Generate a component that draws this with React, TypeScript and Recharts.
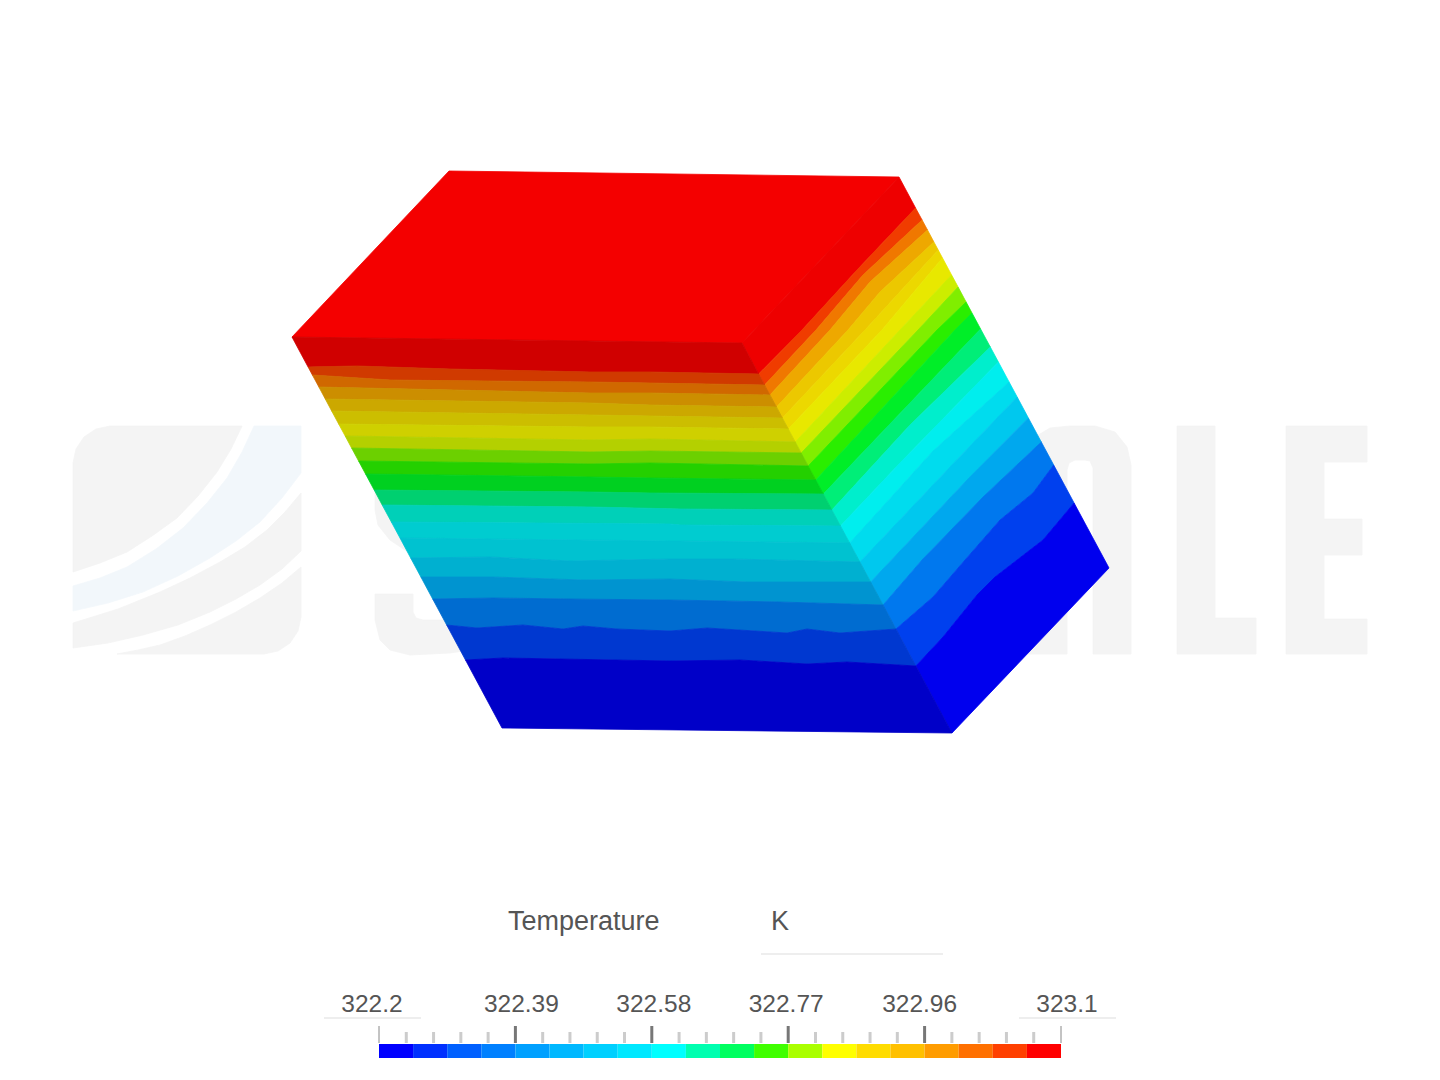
import { Bar, BarChart, ReferenceLine, Scatter, ScatterChart, XAxis, YAxis } from 'recharts'

type Pt = [number, number]

// corners of the block as seen in the picture
const cornerD: Pt = [292, 337]
const cornerC: Pt = [742, 343]
const cornerE: Pt = [502, 728]
const cornerF: Pt = [952, 733]
const cornerB: Pt = [899, 177]
const cornerG: Pt = [1109, 568]

const topFace: Pt[] = [[449, 171], cornerB, cornerC, cornerD]
const topFaceColor = '#f40000'

const frontColors = [
  '#d00000', '#d03a00', '#d06800', '#cc8e00', '#cca800', '#ccbe00', '#cfd000', '#b4d000', '#6cd000', '#24d000',
  '#00d020', '#00d070', '#00d0b8', '#00ccd0', '#00c2d0', '#00b0d0', '#0094d0', '#006cd0', '#0038d0', '#0000c8',
]

const frontContours: Pt[][] = [
  [cornerD, cornerC],
  [[308.1, 367], [357, 366], [450, 369], [590, 372], [650, 372], [758.7, 374]],
  [[312.4, 375], [390, 380], [590, 382], [650, 383], [764.6, 385]],
  [[318.9, 387], [590, 393], [650, 393], [770, 395]],
  [[325.3, 399], [590, 403], [650, 405], [776.5, 407]],
  [[331.7, 411], [590, 415], [650, 416], [782.4, 418]],
  [[338.7, 424], [590, 427], [650, 427], [788.3, 429]],
  [[345.2, 436], [590, 440], [650, 439], [795.3, 442]],
  [[351.6, 448], [590, 452], [650, 451], [801.2, 453]],
  [[358.6, 461], [590, 464], [650, 463], [808.2, 466]],
  [[365.6, 474], [590, 477], [650, 478], [815.8, 480]],
  [[374.2, 490], [590, 492], [650, 493], [823.3, 494]],
  [[382.2, 505], [590, 507], [680, 509], [831.9, 510]],
  [[391.4, 522], [670, 524], [680, 525], [840.5, 526]],
  [[400, 538], [670, 541], [680, 541], [849.7, 543]],
  [[410.7, 558], [490, 557], [570, 561], [670, 559], [733, 559], [859.9, 562]],
  [[420.9, 577], [493, 577], [583, 580], [670, 579], [747, 582], [870.7, 582]],
  [[432.7, 599], [493, 598], [570, 599], [670, 600], [780, 602], [883.1, 605]],
  [[446.7, 625], [477, 628], [523, 625], [563, 629], [583, 626], [617, 629], [670, 631], [707, 628], [787, 633], [807, 629], [840, 633], [896, 629]],
  [[465.5, 660], [503, 658], [670, 661], [740, 660], [807, 664], [847, 662], [915.9, 666]],
  [cornerE, cornerF],
]

const rightColors = [
  '#ee0000', '#f03c00', '#f07800', '#eea800', '#ecc800', '#ecd800', '#e8e800', '#cced00', '#80ee00', '#2aee00',
  '#00ee28', '#00ee78', '#00eecc', '#00eeee', '#00dcee', '#00c8ee', '#00a8ee', '#0078ee', '#0040ee', '#0000ee',
]

const rightContours: Pt[][] = [
  [cornerC, cornerB],
  [[758.7, 374], [802, 330], [857, 270], [915.6, 208]],
  [[764.6, 385], [816, 330], [863, 275], [922.1, 220]],
  [[770, 395], [830, 330], [870, 282], [927.5, 230]],
  [[776.5, 407], [848, 330], [880, 292], [933.9, 242]],
  [[782.4, 418], [865, 330], [938.2, 250]],
  [[788.3, 429], [882, 330], [942.5, 258]],
  [[795.3, 442], [900, 330], [951.6, 275]],
  [[801.2, 453], [918, 330], [958.1, 287]],
  [[808.2, 466], [937, 330], [966.1, 302]],
  [[815.8, 480], [955, 330], [972, 313]],
  [[823.3, 494], [970, 340], [980.6, 329]],
  [[831.9, 510], [910, 425], [990.3, 347]],
  [[840.5, 526], [900, 463], [998.4, 362]],
  [[849.7, 543], [933, 451], [1009.1, 382]],
  [[859.9, 562], [950, 467], [1017.2, 397]],
  [[870.7, 582], [967, 480], [1028.4, 418]],
  [[883.1, 605], [922, 560], [983, 497], [1041.3, 442]],
  [[896, 629], [933, 597], [965, 560], [1000, 520], [1033, 493], [1053.7, 465]],
  [[915.9, 666], [943, 637], [977, 595], [995, 577], [1043, 540], [1074.1, 503]],
  [cornerF, cornerG],
]

// faint logo behind the block
const logoGray = '#f4f4f4'
const logoBlue = '#f2f7fb'
const logoGrayShapes: Pt[][] = [
  [[73, 572], [73, 463], [76, 449], [84, 437], [96, 429], [110, 426], [242, 426], [231, 449], [217, 472], [198, 496], [177, 518], [152, 536], [127, 552], [100, 563]],
  [[73, 623], [118, 609], [160, 592], [190, 578], [220, 562], [245, 547], [267, 530], [285, 512], [301, 493], [301, 551], [282, 569], [260, 585], [236, 599], [210, 612], [178, 625], [143, 635], [108, 643], [73, 648]],
  [[117, 654], [138, 650], [160, 645], [185, 636], [210, 625], [236, 612], [260, 598], [282, 583], [301, 567], [301, 617], [298, 631], [290, 643], [278, 651], [264, 654]],
  [[375, 470], [440, 470], [440, 570], [408, 552], [390, 540], [378, 525], [375, 510]],
  [[375, 594], [413, 594], [413, 612], [416, 618], [423, 620], [470, 620], [470, 650], [450, 653], [410, 655], [390, 650], [380, 640], [375, 620]],
  [[1020, 654], [1020, 460], [1030, 440], [1050, 428], [1070, 426], [1095, 426], [1115, 432], [1127, 447], [1131, 465], [1131, 654], [1093, 654], [1093, 468], [1090, 461], [1085, 460], [1075, 460], [1069, 463], [1067, 470], [1067, 654]],
  [[1177, 426], [1215, 426], [1215, 618], [1256, 618], [1256, 654], [1177, 654]],
  [[1286, 426], [1367, 426], [1367, 462], [1324, 462], [1324, 519], [1362, 519], [1362, 555], [1324, 555], [1324, 619], [1367, 619], [1367, 654], [1286, 654]],
]
const logoBlueShape: Pt[] = [
  [254, 426], [301, 426], [301, 473], [282, 498], [260, 522], [236, 541], [210, 558], [178, 576], [143, 592], [108, 603], [73, 611],
  [73, 586], [100, 578], [127, 567], [156, 549], [183, 528], [207, 503], [227, 478], [242, 452],
]

const legendTexts = [
  { x: 508, y: 930, label: 'Temperature' },
  { x: 771, y: 930, label: 'K' },
]

const barColors = [
  '#0000ff', '#0030ff', '#0060ff', '#0080ff', '#00a0ff', '#00b8ff', '#00d0ff', '#00e8ff', '#00ffff', '#00ffb0',
  '#00ff60', '#40ff00', '#aaff00', '#ffff00', '#ffdc00', '#ffc000', '#ff9c00', '#ff7000', '#ff4000', '#ff0000',
]
const barRow = Object.fromEntries([['name', 'T'], ...barColors.map((_, i) => [`c${i}`, 1])])

// tick positions in colour-cell units: a tick every 0.8 cell, a long one every 4 cells
const barTicks = [
  0, 0.8, 1.6, 2.4, 3.2, 4, 4.8, 5.6, 6.4, 7.2, 8, 8.8, 9.6, 10.4, 11.2, 12, 12.8, 13.6, 14.4, 15.2, 16, 16.8, 17.6,
  18.4, 19.2, 20,
]
const tickLabels = ['322.2', '322.39', '322.58', '322.77', '322.96', '323.1']
const labelShift = [-7, 6, 2, -2, -5, 6]

function closed(points: Pt[]) {
  return [...points, points[0]].map(([x, y]) => ({ x, y }))
}

function bandPolygons(contours: Pt[][]) {
  return contours.slice(0, -1).map((upper, i) => [...upper, ...[...contours[i + 1]].reverse()])
}

function region(points: Pt[], color: string, key: string) {
  return (
    <Scatter
      key={key}
      data={closed(points)}
      fill={color}
      line={{ fill: color, stroke: color, strokeWidth: 0.8 }}
      shape={() => null}
      isAnimationActive={false}
    />
  )
}

function LegendText(props: any) {
  const { cx, cy, payload } = props
  return (
    <text x={cx} y={cy} fontFamily="Liberation Sans" fontSize={27} fill="#555555">
      {payload.label}
    </text>
  )
}

function BarTick(props: any) {
  const { x, y, index } = props
  const isMajor = index % 5 === 0
  const isEnd = index === 0 || index === barTicks.length - 1
  const label = isMajor ? tickLabels[index / 5] : null
  return (
    <g>
      <line
        x1={x}
        x2={x}
        y1={y - 1}
        y2={isMajor ? y - 18 : y - 12}
        stroke={isEnd ? '#888888' : isMajor ? '#777777' : '#cccccc'}
        strokeWidth={isEnd ? 1 : 3}
      />
      {label && (
        <text x={x + labelShift[index / 5]} y={y - 32} textAnchor="middle" fontFamily="Liberation Sans" fontSize={24.5} fill="#555555">
          {label}
        </text>
      )}
    </g>
  )
}

export default function App() {
  const front = bandPolygons(frontContours)
  const right = bandPolygons(rightContours)

  return (
    <div style={{ position: 'absolute', left: 0, top: 0, width: 1440, height: 1080, background: '#ffffff' }}>
      <ScatterChart width={1440} height={1080} margin={{ top: 0, right: 0, bottom: 0, left: 0 }}>
        <XAxis type="number" dataKey="x" domain={[0, 1440]} hide />
        <YAxis type="number" dataKey="y" domain={[0, 1080]} reversed hide />
        {logoGrayShapes.map((shape, i) => region(shape, logoGray, `logo${i}`))}
        {region(logoBlueShape, logoBlue, 'logoBlue')}
        {region(topFace, topFaceColor, 'top')}
        {right.map((band, i) => region(band, rightColors[i], `right${i}`))}
        {front.map((band, i) => region(band, frontColors[i], `front${i}`))}
        <Scatter data={legendTexts} shape={<LegendText />} isAnimationActive={false} />
        <ReferenceLine segment={[{ x: 761, y: 954 }, { x: 943, y: 954 }]} stroke="#e8e8e8" strokeWidth={1.5} />
        <ReferenceLine segment={[{ x: 324, y: 1018 }, { x: 421, y: 1018 }]} stroke="#e8e8e8" strokeWidth={1.5} />
        <ReferenceLine segment={[{ x: 1019, y: 1018 }, { x: 1116, y: 1018 }]} stroke="#e8e8e8" strokeWidth={1.5} />
      </ScatterChart>
      <div style={{ position: 'absolute', left: 0, top: 960 }}>
        <BarChart
          width={1440}
          height={120}
          layout="vertical"
          data={[barRow]}
          barCategoryGap={0}
          margin={{ top: 0, right: 379, bottom: 22, left: 379 }}
        >
          <XAxis
            type="number"
            orientation="top"
            domain={[0, 20]}
            ticks={barTicks}
            interval={0}
            height={84}
            tickSize={0}
            tickMargin={0}
            axisLine={false}
            tickLine={false}
            tick={<BarTick />}
          />
          <YAxis type="category" dataKey="name" hide />
          {barColors.map((color, i) => (
            <Bar key={color} dataKey={`c${i}`} stackId="scale" fill={color} isAnimationActive={false} />
          ))}
        </BarChart>
      </div>
    </div>
  )
}
